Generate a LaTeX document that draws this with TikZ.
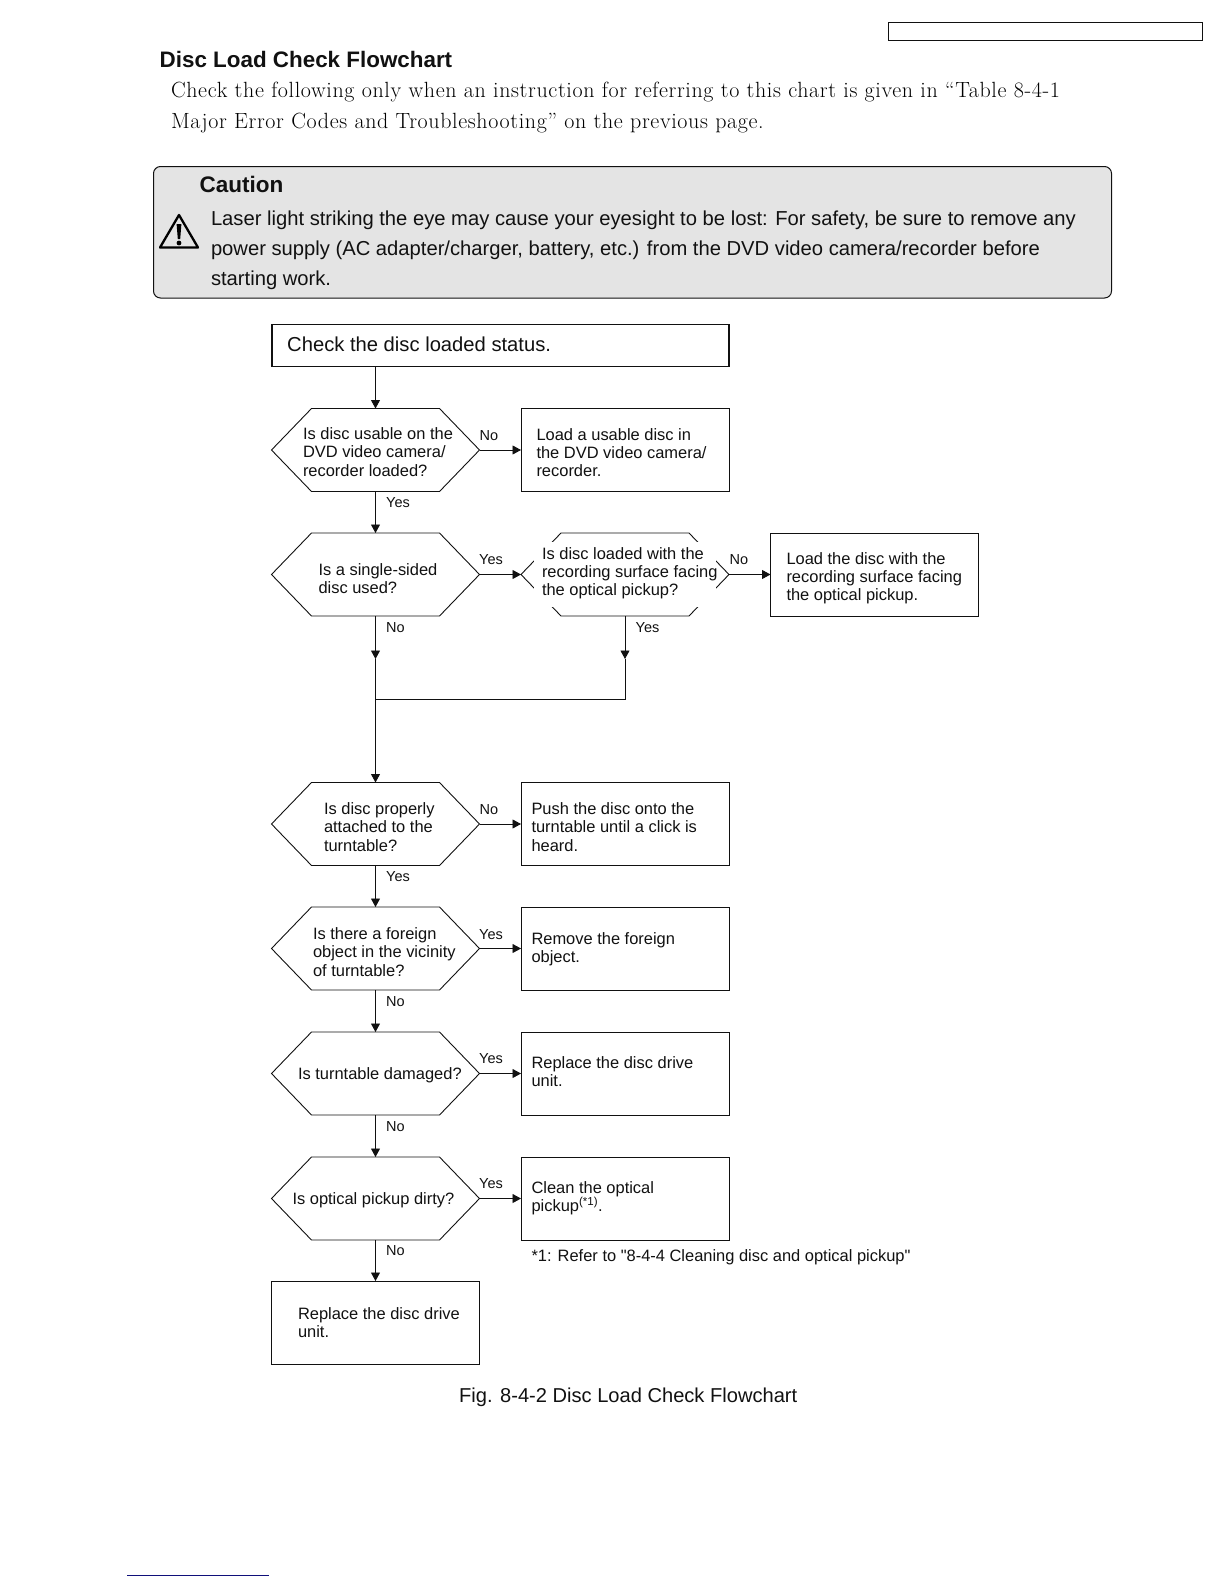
\documentclass[tikz,border=0pt]{standalone}
\usepackage{fontspec}
\setmainfont{Liberation Sans}
\newfontfamily\serifdoc[LetterSpace=2.9]{Latin Modern Roman}
\newfontfamily\qfont[Ligatures=TeXOff]{Liberation Sans}
\usetikzlibrary{arrows.meta,positioning}
\definecolor{ink}{HTML}{111111}
\definecolor{cautionfill}{HTML}{E4E4E4}
\definecolor{footblue}{HTML}{10107A}
\newcommand{\fsz}[2]{\fontsize{#1}{#2}\selectfont}
\newcommand{\hexnode}[2]{%
  \node[hexbox] (#1) at (#2) {};
  \draw[flowline] (#1.west) -- ([xshift=40pt]#1.north west) -- ([xshift=-40pt]#1.north east) -- (#1.east) -- ([xshift=-40pt]#1.south east) -- ([xshift=40pt]#1.south west) -- cycle;
}
\tikzset{
  flowline/.style={draw=ink,line width=0.9pt,line join=miter},
  hexbox/.style={minimum width=208pt,minimum height=83pt,inner sep=0pt,outer sep=0pt},
  actbox/.style={draw=ink,line width=0.9pt,minimum width=208pt,minimum height=83pt,inner sep=0pt,outer sep=0pt},
  txt/.style={anchor=west,align=left,inner sep=0pt,outer sep=0pt,text=ink,font=\fsz{16.45}{18.2}},
  lab/.style={inner sep=0pt,outer sep=0pt,text=ink,font=\fsz{14.5}{16}},
  arr/.style={draw=ink,line width=0.9pt,-{Triangle[length=8.5pt,width=9pt]}},
  plain/.style={draw=ink,line width=0.9pt},
  bodytxt/.style={anchor=west,align=left,inner sep=0pt,outer sep=0pt,text=ink,font=\fsz{20.2}{30.3}},
  serifline/.style={anchor=west,inner sep=0pt,outer sep=0pt,text=black,font=\serifdoc\fsz{22}{30}},
}
\begin{document}
\begin{tikzpicture}[x=1pt,y=-1pt]
\useasboundingbox (0,0) rectangle (1224,1584);
\fill[white] (0,0) rectangle (1224,1584);
% header
\node[draw=ink,line width=1pt,minimum width=314pt,minimum height=18pt,inner sep=0pt] (hdr) at (1045.5,31.5) {};
\node[anchor=west,inner sep=0pt,text=ink,font=\bfseries\fsz{22.4}{24}] (title) at (159.5,59) {Disc Load Check Flowchart};
\node[serifline] (intro1) at (171,92.5) {Check the following only when an instruction for referring to this chart is given in “Table 8-4-1};
\node[serifline] (intro2) at (171,123) {Major Error Codes and Troubleshooting” on the previous page.};
% caution
\draw[draw=ink,line width=1pt,fill=cautionfill,rounded corners=7pt] (153.5,166.5) rectangle (1111.5,298);
\node[anchor=west,inner sep=0pt,text=ink,font=\bfseries\fsz{22.5}{24}] (caution) at (199.5,184) {Caution};
\node[bodytxt,anchor=north west] (cbody) at (211,210.5) {Laser light striking the eye may cause your eyesight to be lost: For safety, be sure to remove any\\power supply (AC adapter/charger, battery, etc.) from the DVD video camera/recorder before\\starting work.};
\draw[draw=black,line width=2.3pt,line join=round] (179,215) -- (160,247.5) -- (198,247.5) -- cycle;
\fill[black] (176.6,224) -- (181.4,224) -- (180.2,239) -- (177.8,239) -- cycle;
\fill[black] (179,243) circle (2.4);
% start
\node[draw=ink,line width=1.2pt,minimum width=457pt,minimum height=41.5pt,inner sep=0pt,outer sep=0pt] (start) at (500.5,345.5) {};
\node[anchor=west,inner sep=0pt,text=ink,font=\fsz{20.2}{24}] (startt) at (287,344.5) {Check the disc loaded status.};
\coordinate (startdrop) at (375.5,366.3);
% hexagons
\hexnode{q1}{375.5,450}
\hexnode{q2}{375.5,574.5}
\hexnode{q3}{625,574.5}
\hexnode{q4}{375.5,824}
\hexnode{q5}{375.5,948.5}
\hexnode{q6}{375.5,1073.5}
\hexnode{q7}{375.5,1198.5}
\node[fill=white,minimum width=182pt,minimum height=65pt,inner sep=0pt] (q3mask) at (625,574.5) {};
% hexagon texts
\node[txt] (q1t) at (303,452) {Is disc usable on the\\DVD video camera/\\recorder loaded?};
\node[txt] (q2t) at (318.5,578.5) {Is a single-sided\\disc used?};
\node[txt] (q3t) at (542,573.5) {Is disc loaded with the\\recording surface facing\\the optical pickup?};
\node[txt] (q4t) at (324,827) {Is disc properly\\attached to the\\turntable?};
\node[txt] (q5t) at (313,952) {Is there a foreign\\object in the vicinity\\of turntable?};
\node[txt] (q6t) at (298,1075) {Is turntable damaged?};
\node[txt] (q7t) at (292.5,1200) {Is optical pickup dirty?};
% boxes
\node[actbox] (a1) at (625,450) {};
\node[actbox] (a3) at (874.5,574.5) {};
\node[actbox] (a4) at (625,824) {};
\node[actbox] (a5) at (625,948.5) {};
\node[actbox] (a6) at (625,1073.5) {};
\node[actbox] (a7) at (625,1198.5) {};
\node[actbox] (a8) at (375.5,1322.5) {};
\node[txt] (a1t) at (536.5,452.5) {Load a usable disc in\\the DVD video camera/\\recorder.};
\node[txt] (a3t) at (786.5,578.5) {Load the disc with the\\recording surface facing\\the optical pickup.};
\node[txt] (a4t) at (531.5,827) {Push the disc onto the\\turntable until a click is\\heard.};
\node[txt] (a5t) at (531.5,949.5) {Remove the foreign\\object.};
\node[txt] (a6t) at (531.5,1072) {Replace the disc drive\\unit.};
\node[txt] (a7t) at (531.5,1198) {Clean the optical\\pickup\textsuperscript{(*1)}.};
\node[txt] (a8t) at (298,1323) {Replace the disc drive\\unit.};
\node[txt] (note) at (531.5,1257) {*1: Refer to {\qfont"}8-4-4 Cleaning disc and optical pickup{\qfont"}};
% caption
\node[anchor=west,inner sep=0pt,text=ink,font=\fsz{20.1}{24}] (cap) at (459,1397.5) {Fig. 8-4-2 Disc Load Check Flowchart};
% connectors
\draw[arr] (startdrop) -- (q1.north);
\draw[arr] (q1.east) -- (a1.west);
\draw[arr] (q1.south) -- (q2.north);
\draw[arr] (q2.east) -- (q3.west);
\draw[arr] (q3.east) -- (a3.west);
\coordinate (m1) at (375.5,659);
\coordinate (m2) at (625,659);
\coordinate (j1) at (375.5,699);
\coordinate (j2) at (625,699);
\draw[arr] (q2.south) -- (m1);
\draw[arr] (q3.south) -- (m2);
\draw[plain] (m2) -- (j2) -- (j1);
\draw[plain] (m1) -- (j1);
\draw[arr] (j1) -- (q4.north);
\draw[arr] (q4.east) -- (a4.west);
\draw[arr] (q4.south) -- (q5.north);
\draw[arr] (q5.east) -- (a5.west);
\draw[arr] (q5.south) -- (q6.north);
\draw[arr] (q6.east) -- (a6.west);
\draw[arr] (q6.south) -- (q7.north);
\draw[arr] (q7.east) -- (a7.west);
\draw[arr] (q7.south) -- (a8.north);
% labels
\node[lab] (l1) at (489,435.5) {No};
\node[lab] (l2) at (398,502.5) {Yes};
\node[lab] (l3) at (491,560) {Yes};
\node[lab] (l4) at (739,559.5) {No};
\node[lab] (l5) at (395.5,627.5) {No};
\node[lab] (l6) at (647.5,627.5) {Yes};
\node[lab] (l7) at (489,809.5) {No};
\node[lab] (l8) at (398,877) {Yes};
\node[lab] (l9) at (491,934.5) {Yes};
\node[lab] (l10) at (395.5,1001.5) {No};
\node[lab] (l11) at (491,1059) {Yes};
\node[lab] (l12) at (395.5,1126.5) {No};
\node[lab] (l13) at (491,1184) {Yes};
\node[lab] (l14) at (395.5,1251) {No};
% footer
\draw[draw=footblue,line width=1pt] (127,1575.5) -- (269,1575.5);
\end{tikzpicture}
\end{document}
